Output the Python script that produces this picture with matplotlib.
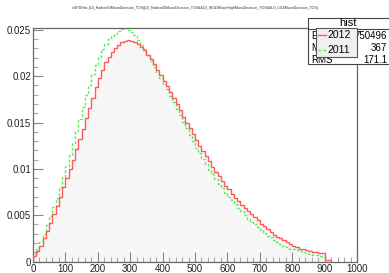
import numpy as np
import matplotlib
matplotlib.use('Agg')
import matplotlib.pyplot as plt
from matplotlib.ticker import MultipleLocator

plt.rcParams['font.family'] = ['Liberation Sans', 'DejaVu Sans']

# bins of 10 from 0
red_2012 = [0.0006, 0.0011, 0.0017, 0.0025, 0.0033, 0.0042, 0.0051, 0.0060, 0.0070, 0.0080,
            0.0090, 0.0100, 0.0110, 0.0121, 0.0132, 0.0143, 0.0155, 0.0166, 0.0177, 0.0188,
            0.0198, 0.0207, 0.0215, 0.0221, 0.0226, 0.0230, 0.0234, 0.0237, 0.0238, 0.0239,
            0.0238, 0.0237, 0.0235, 0.0232, 0.0228, 0.0223, 0.0219, 0.0213, 0.0207, 0.0201,
            0.0195, 0.0189, 0.0183, 0.0177, 0.0170, 0.0163, 0.0156, 0.0150, 0.0144, 0.0138,
            0.0131, 0.0125, 0.0119, 0.0114, 0.0108, 0.0102, 0.0097, 0.0092, 0.0087, 0.0082,
            0.0078, 0.0073, 0.0069, 0.0065, 0.0061, 0.0058, 0.0054, 0.0051, 0.0048, 0.0045,
            0.0041, 0.0038, 0.0035, 0.0032, 0.0029, 0.0027, 0.0025, 0.0023, 0.0021, 0.0019,
            0.0017, 0.0016, 0.0014, 0.0013, 0.0012, 0.0011, 0.0010, 0.0010, 0.0009, 0.0009,
            0.0002, 0.0002]
green_2011 = [0.0008, 0.0014, 0.0021, 0.0030, 0.0039, 0.0049, 0.0059, 0.0069, 0.0080, 0.0091,
              0.0103, 0.0115, 0.0128, 0.0141, 0.0154, 0.0167, 0.0180, 0.0191, 0.0202, 0.0212,
              0.0221, 0.0229, 0.0235, 0.0240, 0.0243, 0.0246, 0.0249, 0.0251, 0.0252, 0.0250,
              0.0248, 0.0244, 0.0239, 0.0234, 0.0229, 0.0223, 0.0216, 0.0210, 0.0204, 0.0198,
              0.0192, 0.0186, 0.0179, 0.0172, 0.0165, 0.0158, 0.0151, 0.0144, 0.0137, 0.0130,
              0.0123, 0.0117, 0.0111, 0.0105, 0.0099, 0.0094, 0.0089, 0.0084, 0.0079, 0.0074,
              0.0070, 0.0066, 0.0062, 0.0058, 0.0054, 0.0050, 0.0046, 0.0043, 0.0040, 0.0037,
              0.0034, 0.0031, 0.0028, 0.0026, 0.0023, 0.0021, 0.0019, 0.0017, 0.0016, 0.0014,
              0.0013, 0.0012, 0.0011, 0.0010, 0.0009, 0.0008, 0.0007, 0.0007, 0.0006, 0.0006]
bin_width = 10

title = 'nSPDHits {L0_HadronDiMuonDecision_TOS||L0_HadronDiMuonDecision_TOS&&L0_Hlt1DiMuonHighMassDecision_TOS&&L0_L0DiMuonDecision_TOS}'
stats_labels = ['Entries', 'Mean', 'RMS']
stats_values = ['750496', '367', '171.1']

edges_r = np.arange(len(red_2012) + 1) * bin_width
edges_g = np.arange(len(green_2011) + 1) * bin_width

fig = plt.figure(figsize=(3.89, 2.73), dpi=100)
ax = fig.add_axes([0.0848, 0.042, 0.833, 0.8554])

ax.stairs(red_2012, edges_r, fill=True, color='#f6f6f6', zorder=1)
ax.stairs(red_2012, edges_r, color='#ff5a5a', lw=1.0, zorder=3)
ax.stairs(green_2011, edges_g, color='#55ee55', lw=1.0, ls=(0, (2, 1.5)), zorder=2)

ax.set_xlim(0, 1000)
ax.set_ylim(0, 0.0252)
ax.xaxis.set_major_locator(MultipleLocator(100))
ax.xaxis.set_minor_locator(MultipleLocator(20))
ax.yaxis.set_major_locator(MultipleLocator(0.005))
ax.yaxis.set_minor_locator(MultipleLocator(0.001))
ax.set_xticklabels([], minor=True)
ax.xaxis.set_major_formatter(plt.FuncFormatter(lambda v, p: '%d' % v))
ax.yaxis.set_major_formatter(plt.FuncFormatter(lambda v, p: ('%g' % round(v, 4))))
ax.tick_params(which='both', direction='in', top=False, right=False, labelsize=7, colors='#222222', pad=1.5)
ax.tick_params(which='major', length=7, width=0.8, color='#888888')
ax.tick_params(which='minor', length=3.5, width=0.8, color='#aaaaaa')
for s in ax.spines.values():
    s.set_color('#666666')
    s.set_linewidth(0.9)

fig.text(0.5, 0.972, title, fontsize=2.6, ha='center', va='center', color='#333333')

# stats box
sb = plt.Rectangle((308 / 389, 1 - 64 / 273), 0.3, 46 / 273, transform=fig.transFigure,
                   facecolor='white', edgecolor='#444444', lw=0.8, zorder=5)
fig.patches.append(sb)
fig.add_artist(plt.Line2D([308 / 389, 1], [1 - 29 / 273, 1 - 29 / 273], transform=fig.transFigure,
                          color='#444444', lw=0.8, zorder=6))
fig.text(348 / 389, 1 - 23 / 273, 'hist', fontsize=8, ha='center', va='center', zorder=7)
for i, (lab, val) in enumerate(zip(stats_labels, stats_values)):
    yy = 1 - (36 + 12 * i) / 273
    fig.text(311 / 389, yy, lab, fontsize=7, ha='left', va='center', zorder=7)
    fig.text(387 / 389, yy, val, fontsize=7, ha='right', va='center', zorder=7)

# legend
lg = plt.Rectangle((316 / 389, 1 - 57 / 273), 41 / 389, 29 / 273, transform=fig.transFigure,
                   facecolor='#f0f0f0', edgecolor='#555555', lw=0.8, zorder=8)
fig.patches.append(lg)
fig.add_artist(plt.Line2D([318 / 389, 326 / 389], [1 - 35 / 273] * 2, transform=fig.transFigure,
                          color='#ff5a5a', lw=1.0, zorder=9))
fig.add_artist(plt.Line2D([318 / 389, 326 / 389], [1 - 50 / 273] * 2, transform=fig.transFigure,
                          color='#55ee55', lw=1.0, ls=(0, (2, 1.5)), zorder=9))
fig.text(327 / 389, 1 - 35 / 273, '2012', fontsize=7.5, ha='left', va='center', zorder=9)
fig.text(327 / 389, 1 - 50 / 273, '2011', fontsize=7.5, ha='left', va='center', zorder=9)

fig.savefig('out.png', dpi=100)
